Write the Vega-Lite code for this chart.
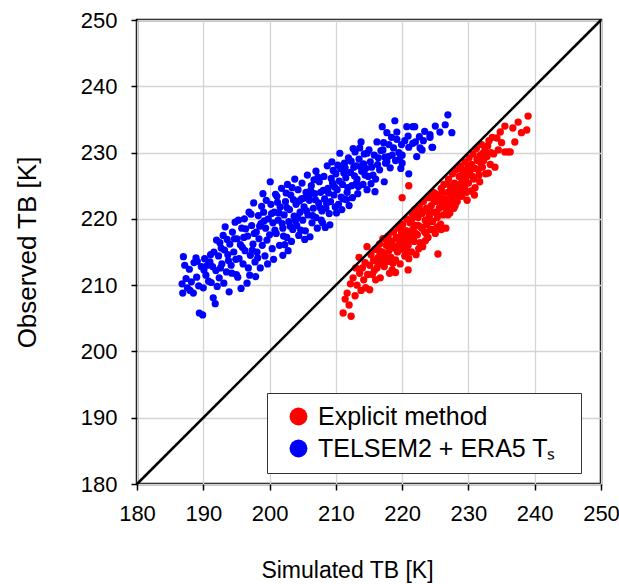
{
"$schema": "https://vega.github.io/schema/vega-lite/v6.json",
"width": 464, "height": 464,
"autosize": {"type": "none"},
"padding": {"left": 137, "top": 20, "right": 18, "bottom": 100},
"background": "white",
"config": {
  "font": "Liberation Sans",
  "view": {"stroke": "black", "strokeWidth": 2.5},
  "axis": {"grid": true, "gridColor": "#d4d4d4", "gridWidth": 1.3, "domain": false, "tickColor": "black", "tickSize": 6, "tickWidth": 1.5, "labelFlush": false, "labelOverlap": false, "labelFont": "Liberation Sans", "labelFontSize": 22, "labelColor": "black", "titleFont": "Liberation Sans", "titleFontWeight": "normal", "titleColor": "black"}
},
"datasets": {
  "diag": [{"sim": 180, "obs": 180}, {"sim": 250, "obs": 250}],
  "telsem": [
{"sim":186.8,"obs":210.2},{"sim":186.9,"obs":208.8},{"sim":187.0,"obs":214.3},{"sim":187.4,"obs":211.0},{"sim":187.6,"obs":209.6},{"sim":187.9,"obs":212.4},{"sim":188.2,"obs":210.5},{"sim":188.5,"obs":208.8},{"sim":188.6,"obs":213.4},{"sim":188.9,"obs":214.1},{"sim":189.0,"obs":211.2},{"sim":189.4,"obs":205.8},{"sim":189.9,"obs":205.5},{"sim":189.3,"obs":209.9},{"sim":189.7,"obs":212.8},{"sim":190.0,"obs":209.6},{"sim":190.2,"obs":214.0},{"sim":190.4,"obs":211.5},{"sim":190.6,"obs":213.0},
{"sim":191.0,"obs":213.5},{"sim":191.2,"obs":210.4},{"sim":191.5,"obs":208.1},{"sim":191.6,"obs":215.0},{"sim":191.9,"obs":212.2},{"sim":192.0,"obs":216.8},{"sim":192.3,"obs":214.4},{"sim":192.4,"obs":211.1},{"sim":192.5,"obs":216.4},{"sim":192.8,"obs":213.2},{"sim":193.0,"obs":217.5},{"sim":193.2,"obs":215.3},{"sim":193.3,"obs":218.8},{"sim":193.5,"obs":212.0},{"sim":193.7,"obs":214.6},{"sim":193.9,"obs":209.0},{"sim":194.0,"obs":216.2},{"sim":194.2,"obs":213.0},{"sim":194.4,"obs":218.0},{"sim":194.6,"obs":215.0},{"sim":194.8,"obs":219.5},{"sim":195.0,"obs":211.6},{"sim":195.1,"obs":217.0},{"sim":195.2,"obs":211.2},{"sim":195.4,"obs":214.0},{"sim":195.6,"obs":216.1},{"sim":195.8,"obs":218.6},
{"sim":196.0,"obs":213.2},{"sim":196.2,"obs":220.0},{"sim":196.3,"obs":215.2},{"sim":196.6,"obs":210.3},{"sim":196.7,"obs":217.4},{"sim":196.9,"obs":221.0},{"sim":197.0,"obs":211.5},{"sim":197.1,"obs":214.5},{"sim":197.3,"obs":219.0},{"sim":197.5,"obs":216.2},{"sim":197.6,"obs":222.4},{"sim":197.8,"obs":213.5},{"sim":198.0,"obs":218.0},{"sim":198.1,"obs":215.0},{"sim":198.3,"obs":220.5},{"sim":198.4,"obs":217.0},{"sim":198.6,"obs":212.6},{"sim":198.7,"obs":219.3},{"sim":198.9,"obs":216.0},{"sim":199.0,"obs":223.8},{"sim":199.1,"obs":221.0},{"sim":199.3,"obs":214.4},{"sim":199.4,"obs":218.6},{"sim":199.6,"obs":216.8},{"sim":199.8,"obs":220.0},{"sim":200.0,"obs":217.6},{"sim":200.1,"obs":225.6},{"sim":200.2,"obs":222.2},{"sim":200.4,"obs":215.5},{"sim":200.5,"obs":219.4},{"sim":200.7,"obs":221.0},
{"sim":201.0,"obs":217.8},{"sim":201.1,"obs":223.4},{"sim":201.3,"obs":219.8},{"sim":201.5,"obs":216.0},{"sim":201.6,"obs":221.8},{"sim":201.8,"obs":224.6},{"sim":202.0,"obs":214.5},{"sim":202.0,"obs":218.6},{"sim":202.2,"obs":220.6},{"sim":202.4,"obs":222.6},{"sim":202.6,"obs":217.2},{"sim":202.7,"obs":225.2},{"sim":202.9,"obs":219.6},{"sim":203.0,"obs":221.4},{"sim":203.2,"obs":223.6},{"sim":203.3,"obs":216.6},{"sim":203.5,"obs":218.4},{"sim":203.7,"obs":220.4},{"sim":203.8,"obs":226.0},{"sim":204.0,"obs":222.2},{"sim":204.1,"obs":219.0},{"sim":204.3,"obs":224.4},{"sim":204.4,"obs":217.5},{"sim":204.6,"obs":221.0},{"sim":204.8,"obs":223.0},{"sim":204.9,"obs":225.4},{"sim":205.0,"obs":219.8},{"sim":205.2,"obs":221.8},{"sim":205.4,"obs":218.2},{"sim":205.5,"obs":224.0},{"sim":205.7,"obs":226.6},{"sim":205.8,"obs":220.6},
{"sim":206.0,"obs":222.8},{"sim":206.1,"obs":217.3},{"sim":206.3,"obs":225.0},{"sim":206.4,"obs":219.4},{"sim":206.6,"obs":221.6},{"sim":206.8,"obs":223.8},{"sim":207.0,"obs":227.2},{"sim":207.0,"obs":220.2},{"sim":207.2,"obs":218.6},{"sim":207.4,"obs":222.4},{"sim":207.5,"obs":225.6},{"sim":207.7,"obs":224.0},{"sim":207.9,"obs":221.2},{"sim":208.0,"obs":219.4},{"sim":208.2,"obs":226.4},{"sim":208.3,"obs":223.0},{"sim":208.5,"obs":221.6},{"sim":208.7,"obs":228.0},{"sim":208.8,"obs":224.6},{"sim":209.0,"obs":220.8},{"sim":209.1,"obs":219.1},{"sim":209.2,"obs":222.6},{"sim":209.4,"obs":228.6},{"sim":209.5,"obs":225.4},{"sim":209.7,"obs":223.6},{"sim":209.9,"obs":221.8},{"sim":210.0,"obs":226.8},{"sim":210.2,"obs":224.4},{"sim":210.4,"obs":222.2},{"sim":210.6,"obs":229.9},{"sim":210.7,"obs":227.6},
{"sim":211.0,"obs":225.2},{"sim":211.1,"obs":223.0},{"sim":211.3,"obs":228.4},{"sim":211.5,"obs":226.2},{"sim":211.7,"obs":224.0},{"sim":211.9,"obs":229.2},{"sim":212.0,"obs":222.0},{"sim":212.2,"obs":227.0},{"sim":212.4,"obs":225.0},{"sim":212.6,"obs":230.6},{"sim":212.9,"obs":230.1},{"sim":213.0,"obs":228.0},{"sim":213.2,"obs":226.0},{"sim":213.3,"obs":223.8},{"sim":213.5,"obs":229.0},{"sim":213.8,"obs":231.6},{"sim":213.9,"obs":227.2},{"sim":214.1,"obs":225.2},{"sim":214.3,"obs":229.8},{"sim":214.5,"obs":227.6},{"sim":214.7,"obs":229.9},{"sim":214.7,"obs":224.4},{"sim":214.9,"obs":226.4},{"sim":215.2,"obs":228.6},{"sim":215.6,"obs":226.6},{"sim":215.9,"obs":224.1},
{"sim":216.2,"obs":231.6},{"sim":216.4,"obs":229.2},{"sim":216.6,"obs":227.4},{"sim":217.0,"obs":233.9},{"sim":217.1,"obs":230.4},{"sim":217.3,"obs":225.6},{"sim":217.5,"obs":228.4},{"sim":217.7,"obs":233.0},{"sim":217.7,"obs":228.6},{"sim":218.0,"obs":231.2},{"sim":218.2,"obs":227.7},{"sim":218.5,"obs":229.6},{"sim":218.9,"obs":234.8},{"sim":219.2,"obs":232.0},{"sim":219.5,"obs":230.0},{"sim":219.8,"obs":227.6},{"sim":220.0,"obs":229.6},{"sim":220.0,"obs":228.4},{"sim":220.4,"obs":231.8},{"sim":220.7,"obs":233.9},{"sim":221.0,"obs":230.8},{"sim":221.6,"obs":233.9},{"sim":221.6,"obs":231.4},
{"sim":222.2,"obs":229.4},{"sim":223.0,"obs":230.4},{"sim":223.4,"obs":233.2},{"sim":224.2,"obs":232.7},{"sim":224.5,"obs":230.8},{"sim":225.0,"obs":234.0},{"sim":226.5,"obs":234.2},{"sim":226.9,"obs":235.7},{"sim":227.5,"obs":233.0},{"sim":221.0,"obs":226.8},{"sim":222.6,"obs":232.4},{"sim":222.7,"obs":230.7},{"sim":225.7,"obs":233.1},{"sim":224.6,"obs":230.8},{"sim":219.2,"obs":233.1},{"sim":221.9,"obs":233.9},{"sim":217.4,"obs":229.3},{"sim":224.2,"obs":232.3},
{"sim":187.2,"obs":213.0},{"sim":188.0,"obs":209.2},{"sim":189.1,"obs":213.6},{"sim":190.8,"obs":210.6},{"sim":191.4,"obs":212.8},{"sim":192.1,"obs":209.8},{"sim":192.7,"obs":215.6},{"sim":193.6,"obs":216.9},{"sim":194.3,"obs":211.8},{"sim":194.9,"obs":213.9},{"sim":195.3,"obs":219.8},{"sim":195.9,"obs":215.7},{"sim":196.4,"obs":218.5},{"sim":196.8,"obs":212.6},{"sim":197.2,"obs":220.7},{"sim":197.7,"obs":217.8},{"sim":198.2,"obs":214.1},{"sim":198.8,"obs":221.9},{"sim":199.2,"obs":219.7},{"sim":199.7,"obs":213.2},{"sim":200.3,"obs":220.8},{"sim":200.8,"obs":218.3},{"sim":201.2,"obs":222.5},{"sim":201.9,"obs":219.3},{"sim":202.3,"obs":216.1},{"sim":202.5,"obs":223.9},{"sim":203.1,"obs":218.9},{"sim":203.6,"obs":222.9},{"sim":204.2,"obs":220.3},{"sim":204.7,"obs":218.3},{"sim":205.1,"obs":223.1},{"sim":205.6,"obs":221.2},{"sim":206.2,"obs":224.3},{"sim":206.5,"obs":220.5},{"sim":206.9,"obs":222.9},{"sim":207.3,"obs":226.3},{"sim":207.8,"obs":219.8},{"sim":208.1,"obs":224.3},{"sim":208.6,"obs":222.3},{"sim":209.3,"obs":226.1},{"sim":209.8,"obs":224.8},{"sim":210.3,"obs":228.1},{"sim":210.8,"obs":223.3},{"sim":211.2,"obs":226.9},{"sim":211.8,"obs":224.7},{"sim":212.3,"obs":228.7},{"sim":212.8,"obs":226.5},{"sim":213.4,"obs":224.9},{"sim":213.6,"obs":230.7},{"sim":214.2,"obs":228.3},{"sim":215.0,"obs":230.4},{"sim":215.4,"obs":227.8},{"sim":216.0,"obs":226.0},{"sim":216.8,"obs":230.3},{"sim":217.9,"obs":229.4},{"sim":218.4,"obs":232.3},{"sim":219.0,"obs":228.8},{"sim":219.9,"obs":231.2},{"sim":220.9,"obs":232.5},{"sim":222.0,"obs":231.6},{"sim":223.2,"obs":231.8},{"sim":210.9,"obs":221.4},{"sim":212.5,"obs":223.2},{"sim":208.4,"obs":218.7},{"sim":205.3,"obs":216.9},{"sim":202.8,"obs":215.2},{"sim":200.6,"obs":213.9},{"sim":197.9,"obs":211.3},{"sim":195.7,"obs":209.5},{"sim":191.8,"obs":207.2},{"sim":193.1,"obs":210.3},
{"sim":200.9,"obs":223.7},{"sim":201.4,"obs":220.9},{"sim":202.1,"obs":217.4},{"sim":202.6,"obs":221.7},{"sim":203.4,"obs":224.7},{"sim":203.9,"obs":219.7},{"sim":204.5,"obs":222.7},{"sim":205.9,"obs":223.5},{"sim":206.7,"obs":225.9},{"sim":207.6,"obs":221.7},{"sim":208.9,"obs":223.9},{"sim":209.6,"obs":227.3},{"sim":210.1,"obs":220.9},{"sim":210.5,"obs":225.7},{"sim":211.4,"obs":227.7},{"sim":211.6,"obs":222.9},{"sim":212.7,"obs":227.8},{"sim":213.1,"obs":225.4},{"sim":213.7,"obs":227.9},{"sim":214.4,"obs":226.6},{"sim":215.3,"obs":225.3},{"sim":215.8,"obs":229.6},{"sim":216.3,"obs":228.2},{"sim":217.2,"obs":231.5},{"sim":218.7,"obs":230.7},{"sim":219.6,"obs":229.0},{"sim":199.5,"obs":222.8},{"sim":198.5,"obs":218.9},{"sim":197.4,"obs":215.3},{"sim":196.1,"obs":217.2},{"sim":194.7,"obs":217.0},{"sim":193.8,"obs":213.7},{"sim":192.6,"obs":212.6},{"sim":191.1,"obs":214.6},{"sim":190.1,"obs":212.3}
  ],
  "explicit": [
{"sim":211.1,"obs":205.8},{"sim":212.3,"obs":205.3},{"sim":211.4,"obs":207.9},{"sim":211.7,"obs":208.8},{"sim":212.2,"obs":210.2},{"sim":212.6,"obs":211.1},{"sim":212.9,"obs":208.4},{"sim":213.2,"obs":210.0},{"sim":213.5,"obs":214.2},{"sim":213.6,"obs":211.8},{"sim":213.8,"obs":209.2},{"sim":214.0,"obs":212.6},{"sim":214.2,"obs":210.8},{"sim":214.4,"obs":213.4},{"sim":214.7,"obs":215.8},{"sim":214.8,"obs":211.6},
{"sim":215.1,"obs":209.3},{"sim":215.1,"obs":213.0},{"sim":215.3,"obs":214.6},{"sim":215.5,"obs":211.6},{"sim":215.7,"obs":213.8},{"sim":215.9,"obs":215.4},{"sim":216.0,"obs":210.8},{"sim":216.2,"obs":212.6},{"sim":216.4,"obs":214.2},{"sim":216.6,"obs":216.2},{"sim":216.7,"obs":211.1},{"sim":216.8,"obs":213.2},{"sim":217.0,"obs":215.0},{"sim":217.1,"obs":217.0},{"sim":217.3,"obs":212.8},{"sim":217.4,"obs":214.4},{"sim":217.6,"obs":216.0},{"sim":217.7,"obs":213.6},{"sim":217.9,"obs":217.4},{"sim":218.0,"obs":215.2},{"sim":218.1,"obs":211.8},{"sim":218.3,"obs":214.2},{"sim":218.5,"obs":212.3},{"sim":218.5,"obs":216.6},{"sim":218.7,"obs":218.0},{"sim":218.8,"obs":215.6},
{"sim":219.0,"obs":213.8},{"sim":219.1,"obs":217.2},{"sim":219.3,"obs":215.0},{"sim":219.4,"obs":218.6},{"sim":219.6,"obs":216.2},{"sim":219.7,"obs":213.2},{"sim":219.9,"obs":217.8},{"sim":220.0,"obs":223.2},{"sim":220.0,"obs":215.4},{"sim":220.1,"obs":219.2},{"sim":220.3,"obs":216.8},{"sim":220.4,"obs":214.4},{"sim":220.6,"obs":218.2},{"sim":220.7,"obs":220.0},{"sim":220.9,"obs":212.3},{"sim":220.9,"obs":216.0},{"sim":221.0,"obs":225.0},{"sim":221.1,"obs":217.6},{"sim":221.2,"obs":219.4},{"sim":221.4,"obs":215.0},{"sim":221.5,"obs":220.8},{"sim":221.6,"obs":218.4},{"sim":221.8,"obs":216.6},{"sim":221.9,"obs":221.4},{"sim":222.0,"obs":219.0},{"sim":222.1,"obs":214.6},{"sim":222.3,"obs":217.6},{"sim":222.4,"obs":220.2},{"sim":222.6,"obs":222.0},{"sim":222.7,"obs":216.4},{"sim":222.8,"obs":218.8},
{"sim":223.0,"obs":220.8},{"sim":223.1,"obs":215.8},{"sim":223.2,"obs":222.6},{"sim":223.4,"obs":218.0},{"sim":223.5,"obs":219.8},{"sim":223.7,"obs":219.1},{"sim":223.7,"obs":221.6},{"sim":223.9,"obs":217.2},{"sim":224.0,"obs":223.2},{"sim":224.1,"obs":220.4},{"sim":224.3,"obs":218.4},{"sim":224.4,"obs":222.0},{"sim":224.6,"obs":219.6},{"sim":224.7,"obs":224.0},{"sim":224.9,"obs":221.0},{"sim":225.0,"obs":217.8},{"sim":225.1,"obs":222.6},{"sim":225.3,"obs":218.8},{"sim":225.3,"obs":220.2},{"sim":225.4,"obs":214.7},{"sim":225.5,"obs":223.6},{"sim":225.6,"obs":221.6},{"sim":225.8,"obs":219.2},{"sim":225.9,"obs":224.6},{"sim":226.0,"obs":222.4},{"sim":226.2,"obs":220.6},{"sim":226.3,"obs":225.2},{"sim":226.5,"obs":223.0},{"sim":226.6,"obs":218.6},{"sim":226.7,"obs":221.4},{"sim":226.9,"obs":220.6},{"sim":226.9,"obs":224.0},
{"sim":227.0,"obs":226.0},{"sim":227.1,"obs":222.2},{"sim":227.2,"obs":220.9},{"sim":227.3,"obs":224.8},{"sim":227.5,"obs":223.2},{"sim":227.6,"obs":226.8},{"sim":227.8,"obs":221.6},{"sim":227.9,"obs":225.4},{"sim":228.0,"obs":223.8},{"sim":228.1,"obs":227.4},{"sim":228.3,"obs":222.6},{"sim":228.4,"obs":225.0},{"sim":228.6,"obs":226.4},{"sim":228.7,"obs":224.2},{"sim":228.8,"obs":228.0},{"sim":229.0,"obs":223.4},{"sim":229.1,"obs":225.8},{"sim":229.2,"obs":227.2},{"sim":229.4,"obs":224.6},{"sim":229.5,"obs":228.6},{"sim":229.6,"obs":226.2},{"sim":229.8,"obs":222.8},{"sim":229.9,"obs":227.8},{"sim":230.0,"obs":225.4},{"sim":230.1,"obs":229.2},{"sim":230.2,"obs":226.8},{"sim":230.4,"obs":224.2},{"sim":230.5,"obs":228.2},
{"sim":230.7,"obs":229.8},{"sim":230.8,"obs":226.0},{"sim":231.0,"obs":224.7},{"sim":231.0,"obs":227.6},{"sim":231.2,"obs":230.6},{"sim":231.4,"obs":228.8},{"sim":231.6,"obs":226.6},{"sim":231.7,"obs":225.6},{"sim":231.8,"obs":229.6},{"sim":232.0,"obs":231.2},{"sim":232.1,"obs":227.8},{"sim":232.3,"obs":228.8},{"sim":232.5,"obs":230.4},{"sim":232.6,"obs":226.8},{"sim":232.8,"obs":229.4},{"sim":233.0,"obs":226.9},{"sim":233.1,"obs":231.8},{"sim":233.3,"obs":228.2},{"sim":233.6,"obs":232.3},{"sim":233.8,"obs":229.8},{"sim":234.0,"obs":227.8},{"sim":234.5,"obs":230.4},{"sim":234.8,"obs":233.1},
{"sim":235.5,"obs":234.0},{"sim":235.5,"obs":230.1},{"sim":236.0,"obs":230.1},{"sim":236.3,"obs":230.1},{"sim":236.7,"obs":233.7},{"sim":237.5,"obs":234.6},{"sim":238.0,"obs":233.0},{"sim":238.8,"obs":233.4},{"sim":239.0,"obs":235.5},{"sim":237.0,"obs":231.6},
{"sim":218.2,"obs":216.0},{"sim":219.8,"obs":218.9},{"sim":220.5,"obs":217.4},{"sim":221.3,"obs":218.0},{"sim":222.2,"obs":220.6},{"sim":223.3,"obs":221.2},{"sim":224.2,"obs":221.0},{"sim":224.8,"obs":222.8},{"sim":225.7,"obs":223.0},{"sim":226.4,"obs":221.8},{"sim":227.4,"obs":223.6},{"sim":228.2,"obs":224.6},{"sim":229.3,"obs":226.8},{"sim":230.3,"obs":227.4},{"sim":231.3,"obs":229.0},{"sim":221.7,"obs":217.0},{"sim":223.8,"obs":219.8},{"sim":226.1,"obs":224.0},{"sim":228.9,"obs":225.4},{"sim":219.2,"obs":215.8},
{"sim":212.0,"obs":207.0},{"sim":213.0,"obs":212.6},{"sim":214.5,"obs":209.6},{"sim":215.8,"obs":212.2},{"sim":216.5,"obs":215.2},{"sim":217.2,"obs":213.9},{"sim":217.8,"obs":216.6},{"sim":218.6,"obs":213.3},{"sim":219.5,"obs":217.0},{"sim":220.2,"obs":218.1},{"sim":220.8,"obs":215.1},{"sim":221.4,"obs":219.8},{"sim":221.9,"obs":217.9},{"sim":222.5,"obs":215.5},{"sim":222.9,"obs":221.1},{"sim":223.6,"obs":217.8},{"sim":224.0,"obs":220.0},{"sim":224.5,"obs":223.6},{"sim":225.2,"obs":220.9},{"sim":225.9,"obs":218.4},{"sim":226.3,"obs":223.0},{"sim":226.8,"obs":225.3},{"sim":227.3,"obs":222.6},{"sim":227.7,"obs":224.2},{"sim":228.5,"obs":223.4},{"sim":229.0,"obs":227.4},{"sim":229.7,"obs":224.0},{"sim":230.6,"obs":226.4},{"sim":231.5,"obs":227.4},{"sim":232.2,"obs":229.9},{"sim":232.9,"obs":231.0},{"sim":233.4,"obs":230.0},{"sim":234.3,"obs":232.2},{"sim":235.0,"obs":231.5},{"sim":223.5,"obs":216.7},{"sim":221.0,"obs":214.0},{"sim":219.0,"obs":211.9},{"sim":228.0,"obs":222.0},{"sim":230.9,"obs":223.6},
{"sim":219.9,"obs":216.0},{"sim":221.1,"obs":216.9},{"sim":222.4,"obs":219.0},{"sim":223.0,"obs":218.6},{"sim":224.4,"obs":219.6},{"sim":225.0,"obs":223.8},{"sim":226.6,"obs":222.0},{"sim":227.9,"obs":224.0},{"sim":229.3,"obs":225.2},{"sim":230.0,"obs":228.0},{"sim":231.9,"obs":228.4},{"sim":224.8,"obs":218.4},{"sim":220.6,"obs":215.4},{"sim":218.0,"obs":213.6},{"sim":216.1,"obs":213.6}
  ]
},
"encoding": {
  "x": {"field": "sim", "type": "quantitative", "scale": {"domain": [180, 250], "nice": false, "zero": false},
        "axis": {"values": [180, 190, 200, 210, 220, 230, 240, 250], "labelPadding": 13, "title": "Simulated TB [K]", "titleFontSize": 23, "titleX": 210, "titleY": 93, "titleAlign": "center", "titleBaseline": "alphabetic"}},
  "y": {"field": "obs", "type": "quantitative", "scale": {"domain": [180, 250], "nice": false, "zero": false},
        "axis": {"values": [180, 190, 200, 210, 220, 230, 240, 250], "labelPadding": 14, "title": "Observed TB [K]", "titleFontSize": 26, "titleX": -102, "titleY": 232, "titleAngle": -90, "titleAlign": "center", "titleBaseline": "alphabetic"}}
},
"layer": [
  {"data": {"name": "telsem"}, "mark": {"type": "circle", "size": 52, "opacity": 1},
   "encoding": {"color": {"datum": "TELSEM2 + ERA5 T\u209b", "type": "nominal",
     "scale": {"domain": ["Explicit method", "TELSEM2 + ERA5 T\u209b"], "range": ["#ff0000", "#0000ff"]},
     "legend": {"title": null, "orient": "none", "legendX": 130, "legendY": 373, "direction": "vertical", "fillColor": "white", "strokeColor": "#333333", "padding": 11, "symbolOffset": 8, "symbolType": "circle", "symbolSize": 320, "symbolOpacity": 1, "symbolStrokeWidth": 0, "labelFontSize": 25, "labelFont": "Liberation Sans", "labelColor": "black", "labelOffset": 7, "rowPadding": 6, "labelLimit": 400,
       "labelExpr": "datum.label == 'Explicit method' ? datum.label : datum.label + '\u00a0\u00a0\u200b'"}}}},
  {"data": {"name": "explicit"}, "mark": {"type": "circle", "size": 54, "opacity": 1},
   "encoding": {"color": {"datum": "Explicit method", "type": "nominal"}}},
  {"data": {"name": "diag"}, "mark": {"type": "line", "color": "black", "strokeWidth": 2.5}, "encoding": {}}
]
}
